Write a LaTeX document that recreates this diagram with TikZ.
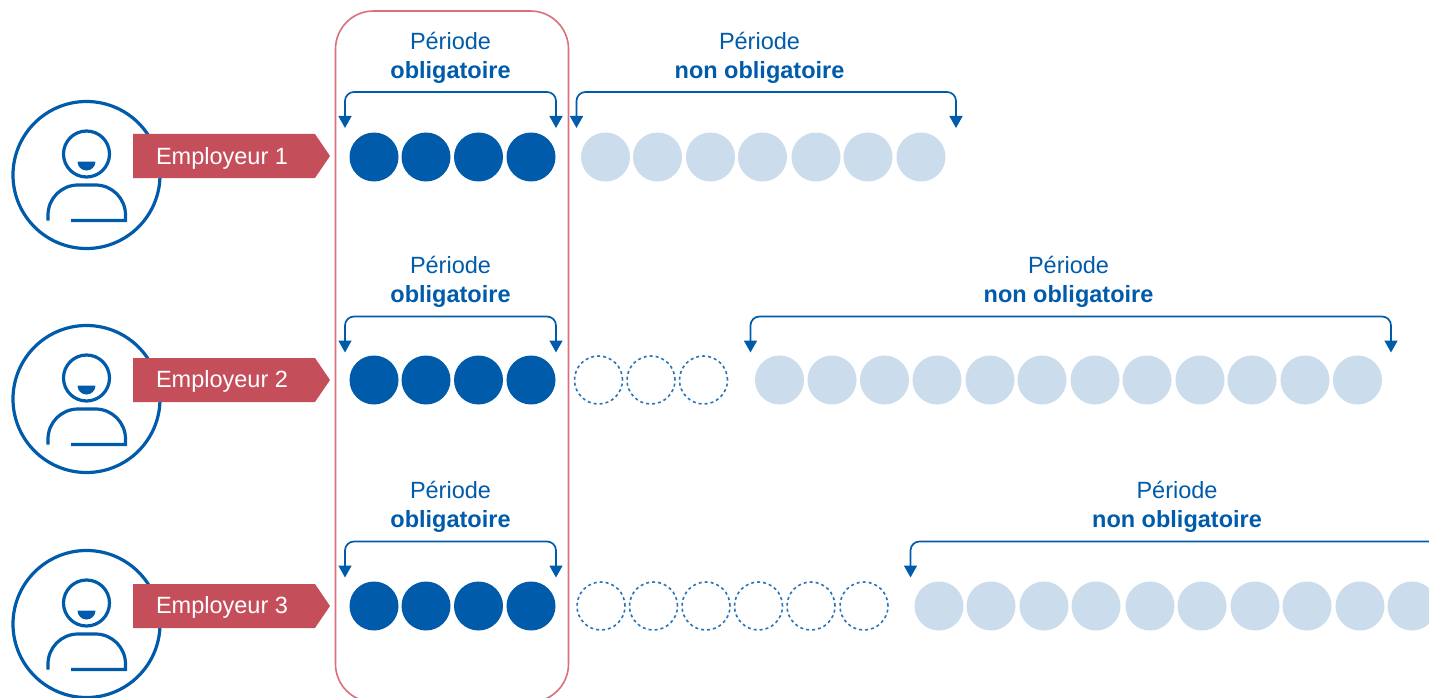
\documentclass[tikz,border=0pt]{standalone}
\usepackage{fontspec}
\setmainfont{Liberation Sans}
\definecolor{bl}{HTML}{005BAA}
\definecolor{lb}{HTML}{CBDCED}
\definecolor{rd}{HTML}{C54E5B}
\definecolor{rl}{HTML}{D9707C}
\definecolor{db}{HTML}{2A74B8}
\usetikzlibrary{arrows.meta}
\tikzset{
  solidc/.style={circle,fill=bl,draw=none,minimum size=49pt,inner sep=0pt},
  lightc/.style={circle,fill=lb,draw=none,minimum size=49pt,inner sep=0pt},
  dashc/.style={circle,draw=db,line width=1.6pt,dash pattern=on 3pt off 3pt,minimum size=48pt,inner sep=0pt},
  per/.style={text=bl,font=\fontsize{23.5}{27}\selectfont,inner sep=0pt,align=center},
  brk/.style={draw=bl,line width=1.7pt,rounded corners=9pt,{Triangle[length=12pt,width=13pt]}-{Triangle[length=12pt,width=13pt]}},
  brkone/.style={draw=bl,line width=1.7pt,rounded corners=9pt,{Triangle[length=12pt,width=13pt]}-},
  ico/.style={draw=bl,line width=3.2pt},
}
\newcommand{\person}[2]{% name, y offset
  \begin{scope}[yshift=-#2pt]
    \node[circle,ico,minimum size=147pt,inner sep=0pt] (#1big) at (86.5,175) {};
    \node[circle,ico,minimum size=46pt,inner sep=0pt] (#1head) at (86.5,154) {};
    \fill[bl] (77.5,161.5) -- (95.5,161.5) arc[start angle=0,end angle=-180,radius=9pt] -- cycle;
    \draw[ico] (48,220.5) -- (48,215) arc[start angle=180,end angle=90,radius=30pt] -- (95.5,185) arc[start angle=90,end angle=0,radius=30pt] -- (125.5,220.5) -- (71,220.5);
  \end{scope}
}
\newcommand{\emp}[3]{% name, ytop, text
  \fill[rd] (133,#2) -- (315,#2) -- (330,#2+22) -- (315,#2+44) -- (133,#2+44) -- cycle;
  \node[text=white,font=\fontsize{23.5}{27}\selectfont,inner sep=0pt,anchor=center] (#1) at (222,#2) {#3};
}
\begin{document}
\begin{tikzpicture}[x=1pt,y=-1pt]
\clip (0,0) rectangle (1429,698);
\fill[white] (0,0) rectangle (1429,698);
% persons
\person{pa}{0}
\person{pb}{224}
\person{pc}{449}
\fill[rd] (133,134) -- (315,134) -- (330,156) -- (315,178) -- (133,178) -- cycle;
\fill[rd] (133,358) -- (315,358) -- (330,380) -- (315,402) -- (133,402) -- cycle;
\fill[rd] (133,584) -- (315,584) -- (330,606) -- (315,628) -- (133,628) -- cycle;
\node[text=white,font=\fontsize{23.5}{27}\selectfont,inner sep=0pt] (ea) at (222,158.5) {Employeur 1};
\node[text=white,font=\fontsize{23.5}{27}\selectfont,inner sep=0pt] (eb) at (222,381.5) {Employeur 2};
\node[text=white,font=\fontsize{23.5}{27}\selectfont,inner sep=0pt] (ec) at (222,607.5) {Employeur 3};
% red frame
\draw[rl,line width=1.6pt,rounded corners=38pt] (335.5,11) rectangle (568.5,702);
% solid circles
\foreach \r/\y in {a/157,b/380,c/606}
  \foreach \i/\x in {1/374,2/426,3/478.5,4/531}
    \node[solidc] (s\r\i) at (\x,\y) {};
% light circles
\foreach \i/\x in {1/605.5,2/657.5,3/710.5,4/762.5,5/816,6/868,7/921}
  \node[lightc] (la\i) at (\x,157) {};
\foreach \i/\x in {1/779.5,2/832,3/884.5,4/937,5/990,6/1042,7/1095,8/1147,9/1200,10/1252,11/1305,12/1357.5}
  \node[lightc] (lb\i) at (\x,380) {};
\foreach \i/\x in {1/939,2/991,3/1044,4/1096,5/1150,6/1202,7/1255,8/1307,9/1360,10/1412}
  \node[lightc] (lc\i) at (\x,606) {};
% dashed circles
\foreach \i/\x in {1/598.5,2/651,3/703.5}
  \node[dashc] (db\i) at (\x,380) {};
\foreach \i/\x in {1/601,2/653.5,3/706,4/758.5,5/811,6/864}
  \node[dashc] (dc\i) at (\x,606) {};
% labels
\foreach \n/\y in {a/41,b/265,c/490}
  \node[per] (po\n) at (450.5,\y+17) {Période\\[2.2pt]\textbf{obligatoire}};
\node[per] (pna) at (759.5,58) {Période\\[2.2pt]\textbf{non obligatoire}};
\node[per] (pnb) at (1068.5,282) {Période\\[2.2pt]\textbf{non obligatoire}};
\node[per] (pnc) at (1177,507) {Période\\[2.2pt]\textbf{non obligatoire}};
% bracket ends
\foreach \n/\y in {a/92,b/316.5,c/541.5}{
  \coordinate (ol\n) at (345,\y+36);
  \coordinate (or\n) at (556,\y+36);
  \draw[brk] (ol\n) |- (or\n |- 0,\y) -- (or\n);
}
\coordinate (nla) at (576.5,128);
\coordinate (nra) at (956,128);
\draw[brk] (nla) |- (nra |- 0,92) -- (nra);
\coordinate (nlb) at (750.5,352.5);
\coordinate (nrb) at (1391,352.5);
\draw[brk] (nlb) |- (nrb |- 0,316.5) -- (nrb);
\coordinate (nlc) at (910.5,577.5);
\coordinate (nrc) at (1445,541.5);
\draw[brkone] (nlc) |- (nrc);
\end{tikzpicture}
\end{document}
